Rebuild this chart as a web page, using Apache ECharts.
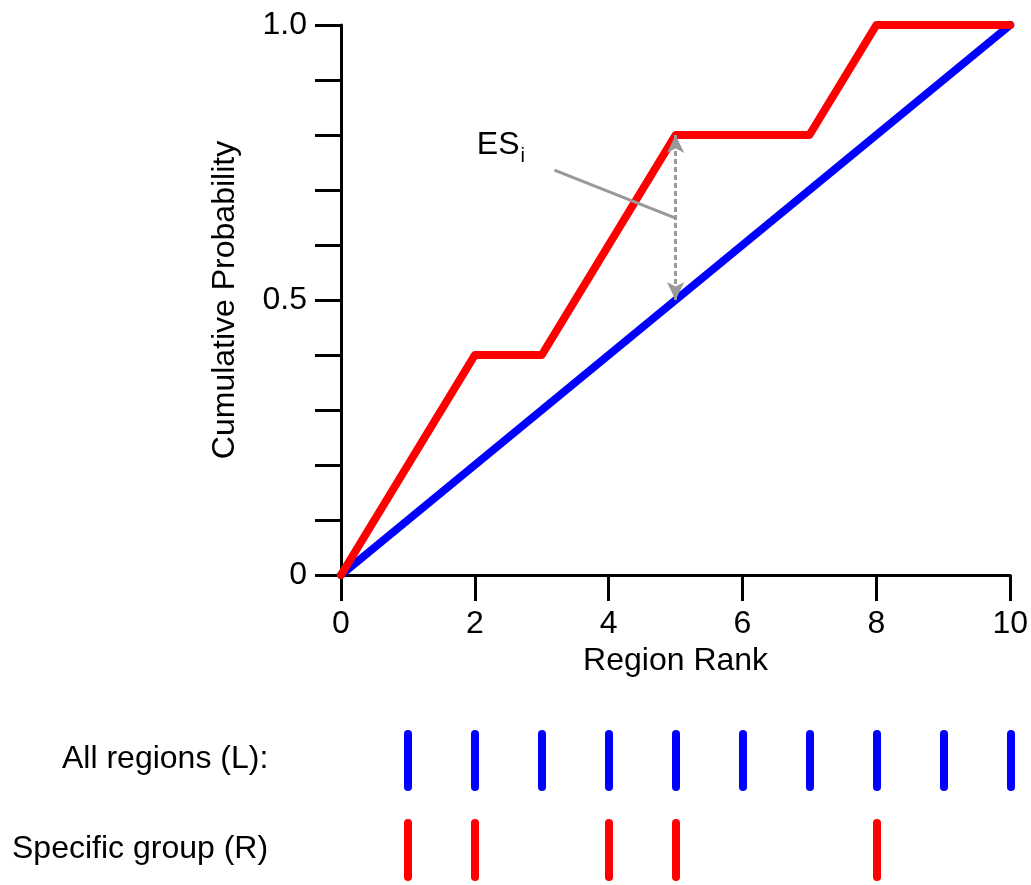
<!DOCTYPE html>
<html>
<head>
<meta charset="utf-8">
<script src="https://cdn.jsdelivr.net/npm/echarts@6/dist/echarts.min.js"></script>
<style>
  html, body { margin: 0; padding: 0; background: #fff; }
  #chart { width: 1031px; height: 885px; }
</style>
</head>
<body>
<div id="chart"></div>
<script>
// 累积概率曲线 + 下方 rug
var rankX = [0, 2, 3, 5, 7, 8, 10];
var groupCum = [0, 0.4, 0.4, 0.8, 0.8, 1.0, 1.0];   // 红线 specific group
var allX = [0, 10];
var allCum = [0, 1];                                 // 蓝线 all regions

var allRegions = [1, 2, 3, 4, 5, 6, 7, 8, 9, 10];
var specificGroup = [1, 2, 4, 5, 8];

// ES_i 标注
var esArrow = [[5, 0.8], [5, 0.5]];
var esPointer = [[3.19, 0.736], [5, 0.649]];
var esLabelAt = [2.03, 0.782];

var FONT = 'Liberation Sans, Arial, sans-serif';
var FS = 32;

function pair(xs, ys) {
  return xs.map(function (x, i) { return [x, ys[i]]; });
}

function rugItem(color) {
  return function (params, api) {
    var p0 = api.coord([api.value(0), 0]);
    var p1 = api.coord([api.value(0), 1]);
    return {
      type: 'line',
      shape: { x1: p0[0], y1: p0[1], x2: p1[0], y2: p1[1] },
      style: { stroke: color, lineWidth: 8, lineCap: 'round' }
    };
  };
}

var hiddenAxis = { show: false, type: 'value', min: 0, max: 1 };

var option = {
  animation: false,
  backgroundColor: '#fff',
  textStyle: { fontFamily: FONT },
  grid: [
    { left: 341, right: 20, top: 25, bottom: 310 },
    { left: 341, right: 20, top: 734, height: 53 },
    { left: 341, right: 20, top: 823, height: 54 }
  ],
  xAxis: [
    {
      gridIndex: 0, type: 'value', min: 0, max: 10, interval: 2,
      name: 'Region Rank', nameLocation: 'middle', nameGap: 70,
      nameTextStyle: { fontSize: FS, color: '#000', fontFamily: FONT },
      axisLine: { lineStyle: { color: '#000', width: 3 } },
      axisTick: { show: true, inside: false, length: 26, lineStyle: { color: '#000', width: 3 } },
      axisLabel: { margin: 33, fontSize: FS, color: '#000', fontFamily: FONT },
      splitLine: { show: false }
    },
    { gridIndex: 1, show: false, type: 'value', min: 0, max: 10 },
    { gridIndex: 2, show: false, type: 'value', min: 0, max: 10 }
  ],
  yAxis: [
    {
      gridIndex: 0, type: 'value', min: 0, max: 1, interval: 0.1,
      name: 'Cumulative Probability', nameLocation: 'middle', nameGap: 100, nameRotate: 90,
      nameTextStyle: { fontSize: FS, color: '#000', fontFamily: FONT },
      axisLine: { show: true, lineStyle: { color: '#000', width: 3 } },
      axisTick: { show: true, inside: false, length: 26, lineStyle: { color: '#000', width: 3 } },
      axisLabel: {
        margin: 34, fontSize: FS, color: '#000', fontFamily: FONT, showMinLabel: true, showMaxLabel: true,
        formatter: function (v) {
          if (Math.abs(v) < 1e-9) return '0';
          if (Math.abs(v - 0.5) < 1e-9) return '0.5';
          if (Math.abs(v - 1) < 1e-9) return '1.0';
          return '';
        }
      },
      splitLine: { show: false }
    },
    Object.assign({ gridIndex: 1 }, hiddenAxis),
    Object.assign({ gridIndex: 2 }, hiddenAxis)
  ],
  series: [
    {
      name: 'All regions', type: 'line', xAxisIndex: 0, yAxisIndex: 0,
      data: pair(allX, allCum), symbol: 'none', z: 3,
      lineStyle: { color: '#0000ff', width: 8, cap: 'round', join: 'round' }
    },
    {
      name: 'Specific group', type: 'line', xAxisIndex: 0, yAxisIndex: 0,
      data: pair(rankX, groupCum), symbol: 'none', z: 4,
      lineStyle: { color: '#ff0000', width: 8, cap: 'round', join: 'round' }
    },
    {
      name: 'annot', type: 'line', xAxisIndex: 0, yAxisIndex: 0, data: [], z: 5,
      markLine: {
        silent: true, animation: false,
        label: { show: false },
        emphasis: { disabled: true },
        lineStyle: { color: '#999', width: 3, opacity: 1 },
        data: [
          [
            { coord: esArrow[0], symbol: 'arrow', symbolSize: [13, 18], lineStyle: { color: '#999', width: 3, type: [5, 3] } },
            { coord: esArrow[1], symbol: 'arrow', symbolSize: [13, 18] }
          ],
          [
            { coord: esPointer[0], symbol: 'none', lineStyle: { color: '#999', width: 3, type: 'solid' } },
            { coord: esPointer[1], symbol: 'none' }
          ]
        ]
      },
      markPoint: {
        silent: true, symbol: 'circle', symbolSize: 0,
        data: [{ coord: esLabelAt }],
        label: {
          show: true, position: 'right', distance: 0,
          formatter: '{a|ES}{b|i}',
          rich: {
            a: { fontSize: FS, color: '#000', fontFamily: FONT },
            b: { fontSize: 20, color: '#000', fontFamily: FONT, padding: [24, 0, 0, 1] }
          }
        }
      }
    },
    {
      name: 'rugAll', type: 'custom', xAxisIndex: 1, yAxisIndex: 1,
      data: allRegions.map(function (x) { return [x]; }),
      renderItem: rugItem('#0000ff')
    },
    {
      name: 'rugGroup', type: 'custom', xAxisIndex: 2, yAxisIndex: 2,
      data: specificGroup.map(function (x) { return [x]; }),
      renderItem: rugItem('#ff0000')
    }
  ],
  graphic: [
    { type: 'text', left: 62, top: 743, style: { text: 'All regions (L):', fontSize: FS, fill: '#000', fontFamily: FONT } },
    { type: 'text', left: 12, top: 833, style: { text: 'Specific group (R)', fontSize: FS, fill: '#000', fontFamily: FONT } }
  ]
};

var chart = echarts.init(document.getElementById('chart'));
chart.setOption(option);
</script>
</body>
</html>
